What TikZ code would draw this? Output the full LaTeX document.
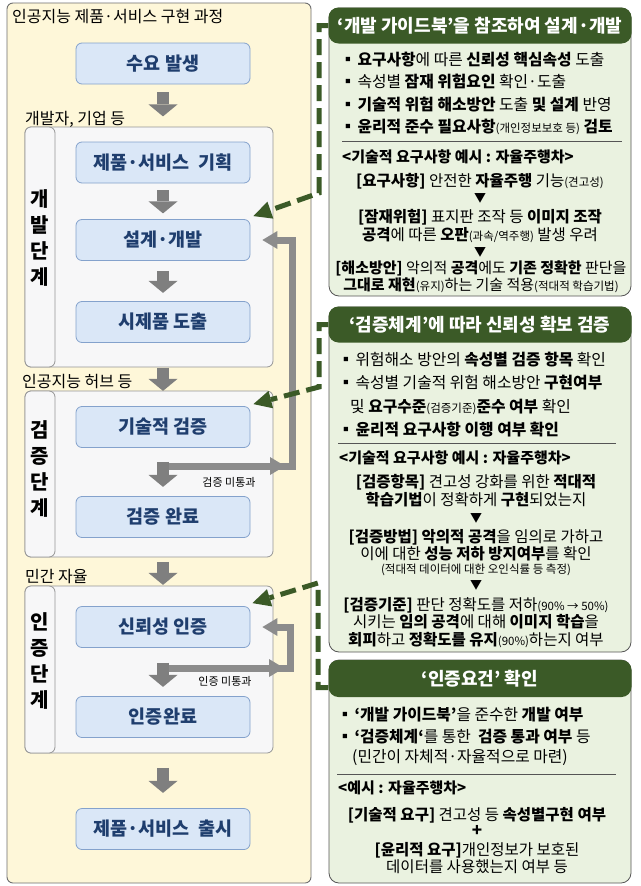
\documentclass[tikz,border=0pt]{standalone}
\usepackage{fontspec}
\setmainfont{Noto Sans CJK KR}
\usetikzlibrary{arrows.meta,calc}
\definecolor{yel}{HTML}{FEF7D9}
\definecolor{yelline}{HTML}{6E6E6E}
\definecolor{stagefill}{HTML}{F7F7F8}
\definecolor{stageline}{HTML}{959595}
\definecolor{boxfill}{HTML}{DAE7F7}
\definecolor{boxline}{HTML}{84A2CC}
\definecolor{boxtext}{HTML}{1F3E6E}
\definecolor{arrgray}{HTML}{7F7F7F}
\definecolor{loopgray}{HTML}{8C8C8C}
\definecolor{dgreen}{HTML}{3B5A27}
\definecolor{lgreen}{HTML}{EAF2E0}
\definecolor{panelline}{HTML}{555555}
\newcommand\sm[1]{{\fontsize{11.5}{13}\selectfont #1}}
\newcommand\bul{▪\hspace{0.1em}}
\begin{document}
\begin{tikzpicture}[x=1pt,y=-1pt,
  bluebox/.style={draw=boxline, fill=boxfill, rounded corners=6pt, minimum width=174pt, minimum height=41pt, text=boxtext, font=\fontsize{18.5}{21}\selectfont\bfseries, line width=0.8pt, inner sep=0pt},
  stagebox/.style={draw=stageline, fill=stagefill, rounded corners=6pt, line width=0.8pt, inner sep=0pt},
  stagetxt/.style={align=center, font=\fontsize{20}{26}\selectfont\bfseries, inner sep=0pt},
  lab/.style={anchor=west, font=\fontsize{16}{18}\selectfont, inner sep=0pt},
  note/.style={font=\fontsize{11}{13}\selectfont, inner sep=0pt},
  blockarr/.style={draw=arrgray, line width=12pt, -{Triangle[width=29pt,length=12pt,line width=0pt]}},
  loopline/.style={draw=loopgray, line width=7pt, line join=miter, -{Triangle[width=18pt,length=15pt,line width=0pt]}},
  gdash/.style={draw=dgreen, line width=5pt, dash pattern=on 16pt off 7pt, -{Triangle[width=18pt,length=18pt,line width=0pt]}},
  header/.style={fill=dgreen, rounded corners=10pt, minimum width=303pt, minimum height=36pt, text=white, font=\fontsize{18}{21}\selectfont\bfseries, inner sep=0pt},
  panel/.style={draw=panelline, fill=lgreen, rounded corners=10pt, line width=0.8pt},
  pl/.style={anchor=west, font=\fontsize{15.8}{18}\selectfont, inner sep=0pt},
  cl/.style={anchor=center, font=\fontsize{15.5}{17}\selectfont, inner sep=0pt},
  el/.style={anchor=west, font=\fontsize{15}{17}\selectfont\bfseries, inner sep=0pt},
  tri/.style={anchor=center, font=\fontsize{12}{14}\selectfont, inner sep=0pt},
  sepline/.style={draw=panelline, line width=0.7pt}
]
\useasboundingbox (0,0) rectangle (640,886);
\fill[white] (0,0) rectangle (640,886);

% ---------- left process ----------
\draw[fill=yel, draw=yelline, rounded corners=6pt, line width=0.9pt] (7,3) rectangle (311,883);
\node[lab] (title) at (12,17) {인공지능 제품·서비스 구현 과정};

% stage boxes
\node[stagebox, minimum width=248pt, minimum height=240pt] (devbox) at (149,247) {};
\node[stagebox, minimum width=30pt, minimum height=240pt] (devstrip) at (40,247) {};
\node[stagebox, minimum width=248pt, minimum height=166pt] (verbox) at (149,474) {};
\node[stagebox, minimum width=30pt, minimum height=166pt] (verstrip) at (40,474) {};
\node[stagebox, minimum width=248pt, minimum height=167pt] (certbox) at (149,669.5) {};
\node[stagebox, minimum width=30pt, minimum height=167pt] (certstrip) at (40,669.5) {};
\node[stagetxt] (devtxt) at (40,238) {개\\발\\단\\계};
\node[stagetxt] (vertxt) at (40,469) {검\\증\\단\\계};
\node[stagetxt] (certtxt) at (40,661) {인\\증\\단\\계};

\node[lab] (lab1) at (25,119) {개발자, 기업 등};
\node[lab] (lab2) at (22,382) {인공지능 허브 등};
\node[lab] (lab3) at (25,577) {민간 자율};

% blue boxes
\node[bluebox] (demand) at (163,63.5) {수요 발생};
\node[bluebox] (plan) at (163,162.5) {제품·서비스\ \ 기획};
\node[bluebox] (design) at (163,240) {설계·개발};
\node[bluebox] (proto) at (163,322) {시제품 도출};
\node[bluebox] (tech) at (163,427) {기술적 검증};
\node[bluebox] (verdone) at (163,517) {검증 완료};
\node[bluebox] (cert) at (163,627) {신뢰성 인증};
\node[bluebox] (certdone) at (163,717) {인증완료};
\node[bluebox] (release) at (163,829) {제품·서비스\ \ 출시};

% feedback loops
\draw[loopline] (168,466) -- (285,466);
\draw[loopline] (272,466) -- (292,466) -- (292,240) -- ($(design.east)+(12,0)$);
\node[note] (fail1) at (229,482) {검증 미통과};
\draw[loopline] (168,668) -- (284,668);
\draw[loopline] (272,668) -- (290,668) -- (290,627) -- ($(cert.east)+(12,0)$);
\node[note] (fail2) at (225,681) {인증 미통과};

% block arrows
\draw[blockarr] ($(demand.south)+(0,8)$) -- ++(0,24);
\draw[blockarr] ($(plan.south)+(0,7)$) -- ++(0,23);
\draw[blockarr] ($(design.south)+(0,10)$) -- ++(0,22);
\draw[blockarr] ($(proto.south)+(0,25)$) -- ++(0,23);
\draw[blockarr] ($(tech.south)+(0,14)$) -- ++(0,25);
\draw[blockarr] ($(verdone.south)+(0,24)$) -- ++(0,23);
\draw[blockarr] ($(cert.south)+(0,15)$) -- ++(0,24);
\draw[blockarr] ($(certdone.south)+(0,30)$) -- ++(0,25);

% ---------- panel 1 ----------
\draw[panel] (329,8) rectangle (631,296);
\node[header] (h1) at (480,25.5) {‘개발 가이드북’을 참조하여 설계·개발};
\node[pl] (a1) at (340,60) {\bul\textbf{요구사항}에 따른 \textbf{신뢰성 핵심속성} 도출};
\node[pl] (a2) at (340,82) {\bul 속성별 \textbf{잠재 위험요인} 확인·도출};
\node[pl] (a3) at (340,105) {\bul\textbf{기술적 위험 해소방안} 도출 \textbf{및 설계} 반영};
\node[pl] (a4) at (340,127) {\bul\textbf{윤리적 준수 필요사항}\sm{(개인정보보호 등)} \textbf{검토}};
\draw[sepline] (342,141) -- (622,141);
\node[el] (a5) at (342,157) {<기술적 요구사항 예시 : 자율주행차>};
\node[cl] (a6) at (480,181) {\textbf{[요구사항]} 안전한 \textbf{자율주행} 기능\sm{(견고성)}};
\node[tri] (a7) at (480,198) {▼};
\node[cl] (a8) at (480,217) {\textbf{[잠재위험]} 표지판 조작 등 \textbf{이미지 조작}};
\node[cl] (a9) at (480,235) {\textbf{공격}에 따른 \textbf{오판}\sm{(과속/역주행)} 발생 우려};
\node[tri] (a10) at (480,252) {▼};
\node[cl, font=\fontsize{15}{17}\selectfont] (a11) at (481,268) {\textbf{[해소방안]} 악의적 \textbf{공격}에도 \textbf{기존 정확한} 판단을};
\node[cl, font=\fontsize{15}{17}\selectfont] (a12) at (481,285) {\textbf{그대로 재현}\sm{(유지)}하는 기술 적용\sm{(적대적 학습기법)}};

% ---------- panel 2 ----------
\draw[panel] (329,307) rectangle (631,652);
\node[header] (h2) at (480,324.5) {‘검증체계’에 따라 신뢰성 확보 검증};
\node[pl] (b1) at (338,360) {\bul 위험해소 방안의 \textbf{속성별 검증 항목} 확인};
\node[pl] (b2) at (338,383) {\bul 속성별 기술적 위험 해소방안 \textbf{구현여부}};
\node[pl] (b3) at (350,407) {및 \textbf{요구수준}\sm{(검증기준)}\textbf{준수 여부} 확인};
\node[pl] (b4) at (338,430) {\bul\textbf{윤리적 요구사항 이행 여부 확인}};
\draw[sepline] (338,443) -- (616,443);
\node[el] (b5) at (339,458) {<기술적 요구사항 예시 : 자율주행차>};
\node[cl] (b6) at (476,482) {\textbf{[검증항목]} 견고성 강화를 위한 \textbf{적대적}};
\node[cl] (b7) at (476,500) {\textbf{학습기법}이 정확하게 \textbf{구현}되었는지};
\node[tri] (b8) at (476,518) {▼};
\node[cl] (b9) at (476,537) {\textbf{[검증방법] 악의적 공격}을 임의로 가하고};
\node[cl] (b10) at (476,554) {이에 대한 \textbf{성능 저하 방지여부}를 확인};
\node[cl] (b11) at (476,570) {\sm{(적대적 데이터에 대한 오인식률 등 측정)}};
\node[tri] (b12) at (476,585) {▼};
\node[cl] (b13) at (476,605) {\textbf{[검증기준]} 판단 정확도를 저하\sm{(90\% → 50\%)}};
\node[cl] (b14) at (476,622) {시키는 \textbf{임의 공격}에 대해 \textbf{이미지 학습}을};
\node[cl] (b15) at (476,640) {\textbf{회피}하고 \textbf{정확도를 유지}\sm{(90\%)}하는지 여부};

% ---------- panel 3 ----------
\draw[panel] (329,660) rectangle (631,883);
\node[header, minimum height=37pt] (h3) at (480,678.5) {‘인증요건’ 확인};
\node[pl] (c1) at (337,715) {\bul\textbf{‘개발 가이드북’}을 준수한 \textbf{개발 여부}};
\node[pl] (c2) at (337,737) {\bul\textbf{‘검증체계‘}를 통한\ \ \textbf{검증 통과 여부} 등};
\node[pl] (c3) at (352,758) {(민간이 자체적·자율적으로 마련)};
\draw[sepline] (337,774) -- (616,774);
\node[el] (c4) at (338,788) {<예시 : 자율주행차>};
\node[cl] (c5) at (477,815) {\textbf{[기술적 요구]} 견고성 등 \textbf{속성별구현 여부}};
\node[cl, font=\fontsize{17}{17}\selectfont\bfseries] (c6) at (477,831) {+};
\node[cl] (c7) at (477,850) {\textbf{[윤리적 요구]}개인정보가 보호된};
\node[cl] (c8) at (477,867) {데이터를 사용했는지 여부 등};

% ---------- green dashed links ----------
\draw[gdash] (h1.west) -- (319,25.5) -- (319,193) -- ($(design.north east)+(3,-3)$);
\draw[gdash] (h2.west) -- (319,324.5) -- (319,387) -- ($(tech.north east)+(3,-2)$);
\draw[gdash] ($(h3.west)+(0,9)$) -- (318,687.5) -- (318,583) -- ($(cert.north east)+(2,-3)$);
\end{tikzpicture}
\end{document}
